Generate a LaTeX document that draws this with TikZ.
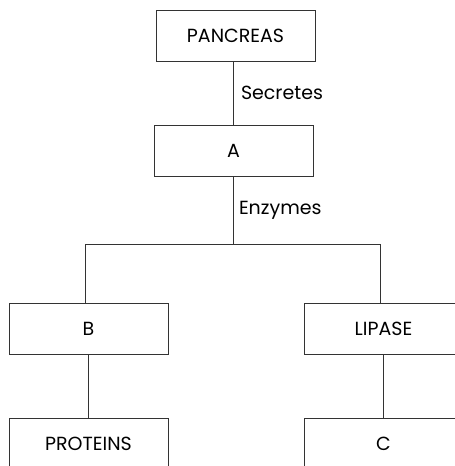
\documentclass[tikz,border=0pt]{standalone}
\usepackage{fontspec}
\setmainfont{Poppins}
\usepackage{tikz}

\begin{document}
\begin{tikzpicture}[x=1pt, y=-1pt,
        box/.style={draw=black!80, line width=1pt, fill=white, minimum width=159pt, minimum height=51pt, inner sep=0pt, font=\fontsize{19}{22}\selectfont},
        link/.style={draw=black!80, line width=1pt},
        lbl/.style={anchor=west, inner sep=0pt, font=\fontsize{19}{22}\selectfont}]
        \useasboundingbox (0,0) rectangle (455,466);
        \clip (0,0) rectangle (455,466);
        \node [box] (pancreas) at (235.5,35.5)  {PANCREAS};          %
        \node [box] (a)        at (233.5,151)   {A};                 %
        \node [box] (b)        at (88.5,328.5)  {B};                 %
        \node [box] (lipase)   at (383.5,328.5) {LIPASE};            %
        \node [box] (proteins) at (88.5,443.5)  {PROTEINS};          %
        \node [box] (c)        at (383.5,443.5) {C};                 %
        \coordinate (forkl) at (85,244);                             %fork
        \coordinate (forkr) at (380,244);                            %
        \draw [link] (a.north |- pancreas.south) -- (a.north)
              node [lbl, midway, xshift=7pt] (secretes) {Secretes};
        \draw [link] (a.south) -- (a.south |- forkl)
              node [lbl, midway, xshift=5pt] (enzymes) {Enzymes};
        \draw [link] (forkl) -- (forkr);                             %
        \draw [link] (forkl) -- (forkl |- b.north);                  %
        \draw [link] (forkr) -- (forkr |- lipase.north);             %
        \draw [link] (b.south) -- (proteins.north);                  %
        \draw [link] (lipase.south) -- (c.north);                    %
       \end{tikzpicture}
\end{document}
